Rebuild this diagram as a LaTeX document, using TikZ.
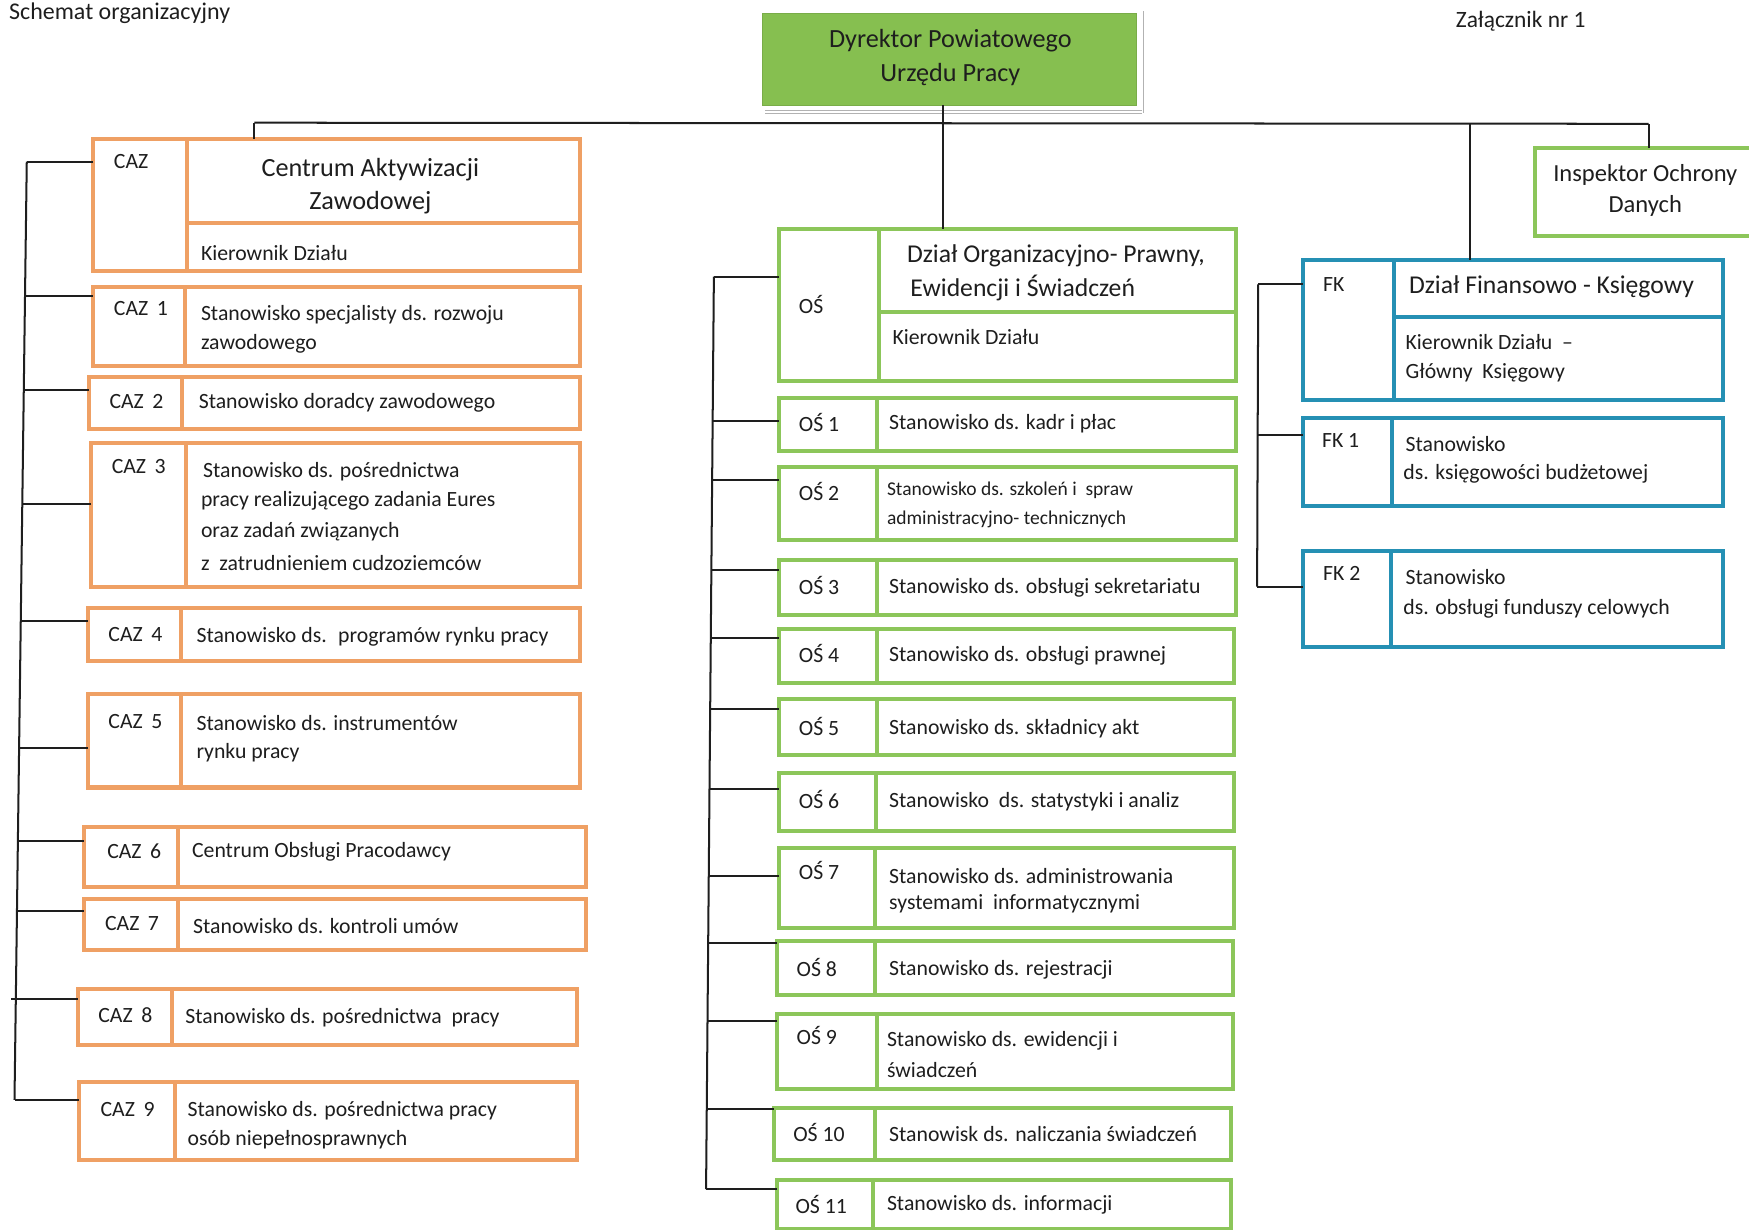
\documentclass[tikz,border=0pt]{standalone}
\usepackage{fontspec}
\setmainfont{Carlito}
\definecolor{orng}{HTML}{EFA064}
\definecolor{grn}{HTML}{8CC65A}
\definecolor{blu}{HTML}{2590B4}
\definecolor{dirfill}{HTML}{86BF50}
\definecolor{ink}{HTML}{1E1E1E}
\tikzset{
  ubox/.style={draw=#1, line width=3.6pt, fill=white, rectangle, inner sep=0, outer sep=0, anchor=north west},
  conn/.style={draw=ink, line width=1.8pt},
  txt/.style={anchor=west, inner sep=0, text=ink, font=\fontsize{19.5}{22}\selectfont},
  stxt/.style={anchor=west, inner sep=0, text=ink, font=\fontsize{17.5}{20}\selectfont},
  htxt/.style={anchor=west, inner sep=0, text=ink, font=\fontsize{23}{26}\selectfont},
  ctxt/.style={anchor=center, inner sep=0, text=ink, font=\fontsize{23.5}{26}\selectfont},
}
% name, colour, x1, y1, x2, y2, xdiv
\newcommand\ubx[7]{%
  \node[ubox=#2, minimum width={#5-#3}, minimum height={#6-#4}] (#1) at (#3,#4) {};
  \draw[draw=#2, line width=3.6pt] (#7,#4) -- (#7,#6);}
\begin{document}
\begin{tikzpicture}[x=1pt,y=-1pt]
\useasboundingbox[fill=white] (0,0) rectangle (1568,1102);

% headers
\node[anchor=west, inner sep=0, text=ink, font=\fontsize{21.5}{24}\selectfont] (title) at (8,12) {Schemat organizacyjny};
\node[anchor=west, inner sep=0, text=ink, font=\fontsize{21}{24}\selectfont] (zal) at (1305,19) {Załącznik nr 1};

% director
\draw[gray!60, line width=1pt] (686,99) -- (1024,99) (686,101.5) -- (1024,101.5) (1025,10) -- (1025,101);
\node[fill=dirfill, draw=dirfill!90!black, line width=0.6pt, inner sep=0, outer sep=0, anchor=north west,
      minimum width=336, minimum height=82] (dir) at (683,12) {};
\node[ctxt] (dirt1) at (852,36) {Dyrektor Powiatowego};
\node[ctxt] (dirt2) at (852,67) {Urzędu Pracy};

% ===== CAZ column =====
\ubx{caz}{orng}{83}{125}{520}{243}{168}
\draw[draw=orng, line width=3.6pt] (168,200) -- (520,200);
\ubx{caz1}{orng}{83}{257}{520}{328}{166}
\ubx{caz2}{orng}{80}{338}{520}{385}{163}
\ubx{caz3}{orng}{82}{397}{520}{526}{167}
\ubx{caz4}{orng}{79}{545}{520}{593}{162}
\ubx{caz5}{orng}{79}{622}{520}{706}{162}
\ubx{caz6}{orng}{75}{741}{525}{795}{160}
\ubx{caz7}{orng}{75}{806}{525}{852}{160}
\ubx{caz8}{orng}{70}{887}{517}{937}{154}
\ubx{caz9}{orng}{71}{970}{517}{1040}{157}

\node[txt] (caz-l) at (102,145) {CAZ};
\node[ctxt] (caz-t1) at (332,152) {Centrum Aktywizacji};
\node[ctxt] (caz-t2) at (332,182) {Zawodowej};
\node[txt] (caz-k) at (180,227) {Kierownik Działu};

\node[txt] (caz1-l) at (102,277) {CAZ\, 1};
\node[txt] (caz1-t1) at (180,282) {Stanowisko specjalisty ds. rozwoju};
\node[txt] (caz1-t2) at (180,308) {zawodowego};

\node[txt] (caz2-l) at (98,360) {CAZ\, 2};
\node[txt] (caz2-t) at (178,361) {Stanowisko doradcy zawodowego};

\node[txt] (caz3-l) at (100,418) {CAZ\, 3};
\node[txt] (caz3-t1) at (182,423) {Stanowisko ds. pośrednictwa};
\node[txt] (caz3-t2) at (180,449) {pracy realizującego zadania Eures};
\node[txt] (caz3-t3) at (180,477) {oraz zadań związanych};
\node[txt] (caz3-t4) at (180,505) {z \ zatrudnieniem cudzoziemców};

\node[txt] (caz4-l) at (97,569) {CAZ\, 4};
\node[txt] (caz4-t) at (176,571) {Stanowisko ds. \ programów rynku pracy};

\node[txt] (caz5-l) at (97,647) {CAZ\, 5};
\node[txt] (caz5-t1) at (176,648) {Stanowisko ds. instrumentów};
\node[txt] (caz5-t2) at (176,675) {rynku pracy};

\node[txt] (caz6-l) at (96,763) {CAZ\, 6};
\node[txt] (caz6-t) at (172,764) {Centrum Obsługi Pracodawcy};

\node[txt] (caz7-l) at (94,828) {CAZ\, 7};
\node[txt] (caz7-t) at (173,830) {Stanowisko ds. kontroli umów};

\node[txt] (caz8-l) at (88,910) {CAZ\, 8};
\node[txt] (caz8-t) at (166,912) {Stanowisko ds. pośrednictwa \ pracy};

\node[txt] (caz9-l) at (90,995) {CAZ\, 9};
\node[txt] (caz9-t1) at (168,996) {Stanowisko ds. pośrednictwa pracy};
\node[txt] (caz9-t2) at (168,1022) {osób niepełnosprawnych};

% ===== OS column =====
\ubx{os}{grn}{698}{205}{1108}{342}{788}
\draw[draw=grn, line width=3.6pt] (788,280) -- (1108,280);
\ubx{os1}{grn}{698}{357}{1108}{404}{786}
\ubx{os2}{grn}{698}{419}{1108}{484}{786}
\ubx{os3}{grn}{698}{502}{1108}{551}{786}
\ubx{os4}{grn}{698}{564}{1106}{612}{786}
\ubx{os5}{grn}{698}{627}{1106}{677}{786}
\ubx{os6}{grn}{698}{693}{1106}{745}{785}
\ubx{os7}{grn}{698}{760}{1106}{832}{784}
\ubx{os8}{grn}{697}{844}{1105}{892}{784}
\ubx{os9}{grn}{697}{909}{1105}{976}{786}
\ubx{os10}{grn}{694}{993}{1104}{1040}{784}
\ubx{os11}{grn}{697}{1058}{1104}{1102}{783}

\node[txt] (os-l) at (716,273) {OŚ};
\node[htxt] (os-t1) at (813,229) {Dział Organizacyjno- Prawny,};
\node[htxt] (os-t2) at (816,258) {Ewidencji i Świadczeń};
\node[txt] (os-k) at (800,302) {Kierownik Działu};

\node[txt] (os1-l) at (716,379) {OŚ 1};
\node[txt] (os1-t) at (797,380) {Stanowisko ds. kadr i płac};
\node[txt] (os2-l) at (716,441) {OŚ 2};
\node[stxt] (os2-t1) at (795,440) {Stanowisko ds. szkoleń i \ spraw};
\node[stxt] (os2-t2) at (795,466) {administracyjno- technicznych};
\node[txt] (os3-l) at (716,525) {OŚ 3};
\node[txt] (os3-t) at (797,527) {Stanowisko ds. obsługi sekretariatu};
\node[txt] (os4-l) at (716,586) {OŚ 4};
\node[txt] (os4-t) at (797,588) {Stanowisko ds. obsługi prawnej};
\node[txt] (os5-l) at (716,651) {OŚ 5};
\node[txt] (os5-t) at (797,653) {Stanowisko ds. składnicy akt};
\node[txt] (os6-l) at (716,717) {OŚ 6};
\node[txt] (os6-t) at (797,719) {Stanowisko \ ds. statystyki i analiz};
\node[txt] (os7-l) at (716,780) {OŚ 7};
\node[txt] (os7-t1) at (797,785) {Stanowisko ds. administrowania};
\node[txt] (os7-t2) at (797,810) {systemami \ informatycznymi};
\node[txt] (os8-l) at (714,867) {OŚ 8};
\node[txt] (os8-t) at (797,869) {Stanowisko ds. rejestracji};
\node[txt] (os9-l) at (714,928) {OŚ 9};
\node[txt] (os9-t1) at (795,933) {Stanowisko ds. ewidencji i};
\node[txt] (os9-t2) at (795,959) {świadczeń};
\node[txt] (os10-l) at (711,1015) {OŚ 10};
\node[txt] (os10-t) at (797,1017) {Stanowisk ds. naliczania świadczeń};
\node[txt] (os11-l) at (713,1080) {OŚ 11};
\node[txt] (os11-t) at (795,1080) {Stanowisko ds. informacji};

% ===== FK column =====
\ubx{fk}{blu}{1168}{233}{1545}{359}{1250}
\draw[draw=blu, line width=3.6pt] (1250,284) -- (1545,284);
\ubx{fk1}{blu}{1168}{375}{1545}{454}{1248}
\ubx{fk2}{blu}{1168}{494}{1545}{580}{1247}

\node[txt] (fk-l) at (1186,255) {FK};
\node[htxt] (fk-t) at (1263,257) {Dział Finansowo - Księgowy};
\node[txt] (fk-k1) at (1260,307) {Kierownik Działu \ –};
\node[txt] (fk-k2) at (1260,334) {Główny \ Księgowy};
\node[txt] (fk1-l) at (1185,395) {FK 1};
\node[txt] (fk1-t1) at (1260,398) {Stanowisko};
\node[txt] (fk1-t2) at (1258,425) {ds. księgowości budżetowej};
\node[txt] (fk2-l) at (1186,514) {FK 2};
\node[txt] (fk2-t1) at (1260,517) {Stanowisko};
\node[txt] (fk2-t2) at (1258,546) {ds. obsługi funduszy celowych};

% ===== Inspector =====
\node[ubox=grn, minimum width=210, minimum height=79] (iod) at (1376,133) {};
\node[ctxt, font=\fontsize{22}{25}\selectfont] (iod-t1) at (1475,157) {Inspektor Ochrony};
\node[ctxt, font=\fontsize{22}{25}\selectfont] (iod-t2) at (1475,185) {Danych};

% ===== connectors =====
\coordinate (hl) at (228,110);
\coordinate (hr) at (1478,111);
\draw[conn] (hl) -- (hr);
\draw[conn] (dir.south -| 845,0) -- (os.north -| 845,0);
\draw[conn] (hl) -- (caz.north -| hl);
\draw[conn] (hr) -- (iod.north -| hr);
\coordinate (hfk) at (1318,111);
\draw[conn] (hfk) -- (fk.north -| hfk);

% CAZ bus
\coordinate (cb0) at (24,145);
\coordinate (cb9) at (13,986);
\draw[conn] (cb0) -- (cb9);
\draw[conn] (cb0) -- (caz.west |- cb0);
\draw[conn] (22.4,265) -- (caz1.west |- 0,265);
\draw[conn] (21.3,350) -- (caz2.west |- 0,350);
\draw[conn] (20.0,452) -- (caz3.west |- 0,452);
\draw[conn] (18.6,557) -- (caz4.west |- 0,557);
\draw[conn] (17.1,671) -- (caz5.west |- 0,671);
\draw[conn] (16.0,754) -- (caz6.west |- 0,754);
\draw[conn] (15.2,817) -- (caz7.west |- 0,817);
\draw[conn] (10,896) -- (caz8.west |- 0,896);
\draw[conn] (cb9) -- (caz9.west |- cb9);

% OS bus
\coordinate (ob0) at (640,248);
\coordinate (ob11) at (633,1066);
\draw[conn] (ob0) -- (ob11);
\draw[conn] (ob0) -- (os.west |- ob0);
\draw[conn] (638.9,377) -- (os1.west |- 0,377);
\draw[conn] (638.4,430) -- (os2.west |- 0,430);
\draw[conn] (637.7,511) -- (os3.west |- 0,511);
\draw[conn] (637.2,572) -- (os4.west |- 0,572);
\draw[conn] (636.7,636) -- (os5.west |- 0,636);
\draw[conn] (636.1,707) -- (os6.west |- 0,707);
\draw[conn] (635.4,785) -- (os7.west |- 0,785);
\draw[conn] (634.9,845) -- (os8.west |- 0,845);
\draw[conn] (634.3,915) -- (os9.west |- 0,915);
\draw[conn] (633.6,994) -- (os10.west |- 0,994);
\draw[conn] (ob11) -- (os11.west |- ob11);

% FK bus
\coordinate (fb0) at (1128,255);
\coordinate (fb2) at (1127,526);
\draw[conn] (fb0) -- (fb2);
\draw[conn] (fb0) -- (fk.west |- fb0);
\draw[conn] (1127.5,390) -- (fk1.west |- 0,390);
\draw[conn] (fb2) -- (fk2.west |- fb2);
\end{tikzpicture}
\end{document}
